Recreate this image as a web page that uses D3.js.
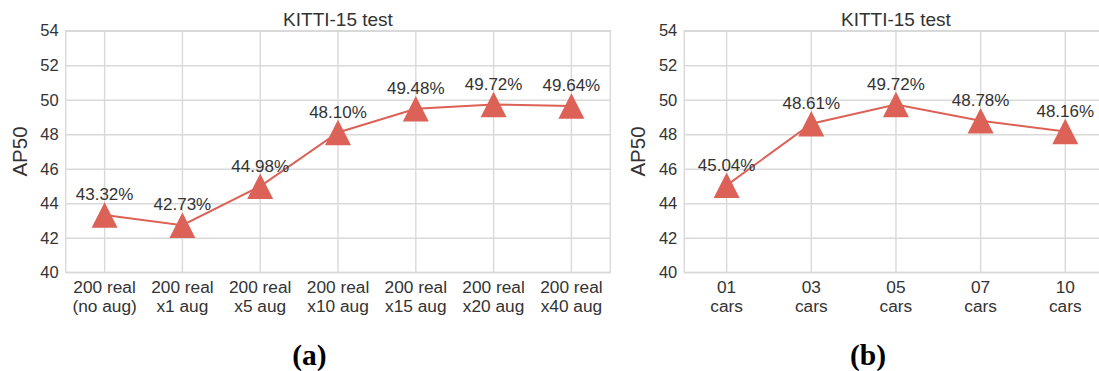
<!DOCTYPE html>
<html>
<head>
<meta charset="utf-8">
<script src="https://cdn.jsdelivr.net/npm/d3@7"></script>
<style>
  body { margin: 0; background: #fff; }
  svg text { font-family: "Liberation Sans", Arial, sans-serif; fill: #333; }
</style>
</head>
<body>
<svg id="chart" width="1099" height="371"></svg>
<script>
// data
var labelsA = [["200 real", "(no aug)"], ["200 real", "x1 aug"], ["200 real", "x5 aug"],
               ["200 real", "x10 aug"], ["200 real", "x15 aug"], ["200 real", "x20 aug"],
               ["200 real", "x40 aug"]];
var valuesA = [43.32, 42.73, 44.98, 48.10, 49.48, 49.72, 49.64];

var labelsB = [["01", "cars"], ["03", "cars"], ["05", "cars"], ["07", "cars"], ["10", "cars"]];
var valuesB = [45.04, 48.61, 49.72, 48.78, 48.16];

var yTicks = [40, 42, 44, 46, 48, 50, 52, 54];
var title = "KITTI-15 test";
var yTitle = "AP50";

var svg = d3.select("#chart");
var lineColor = "#dc6156";
var gridColor = "#d9d9d9";

function drawPanel(labels, values, left, right, caption, captionX) {
    var top = 30.7, bottom = 272.3;
    var keys = labels.map(function (d) { return d.join(" "); });

    var x = d3.scaleBand().domain(keys).range([left, right]).padding(0);
    var y = d3.scaleLinear().domain([40, 54]).range([bottom, top]);

    var g = svg.append("g");

    // horizontal grid
    g.append("g")
        .attr("transform", "translate(" + left + ",0)")
        .call(d3.axisLeft(y).tickValues(yTicks).tickSize(-(right - left)).tickFormat(""))
        .call(function (s) {
            s.select(".domain").remove();
            s.selectAll("line").attr("stroke", gridColor).attr("stroke-width", 1.4);
        });

    // vertical grid at category centres
    g.append("g")
        .attr("transform", "translate(0," + bottom + ")")
        .call(d3.axisBottom(x).tickSize(-(bottom - top)).tickFormat(""))
        .call(function (s) {
            s.select(".domain").remove();
            s.selectAll("line").attr("stroke", gridColor).attr("stroke-width", 1.4);
        });

    // frame
    g.append("rect")
        .attr("x", left).attr("y", top)
        .attr("width", right - left).attr("height", bottom - top)
        .attr("fill", "none").attr("stroke", gridColor).attr("stroke-width", 1.4);

    // y tick labels
    g.append("g")
        .attr("transform", "translate(" + left + ",0)")
        .call(d3.axisLeft(y).tickValues(yTicks).tickSize(0).tickPadding(7))
        .call(function (s) {
            s.select(".domain").remove();
            s.selectAll("text")
                .style("font-size", "16.5px")
                .style("font-family", "'Liberation Sans', Arial, sans-serif")
                .attr("fill", "#333");
        });

    // x tick labels (two lines)
    var xl = g.append("g").selectAll("text")
        .data(labels)
        .enter()
        .append("text")
        .attr("x", function (d) { return x(d.join(" ")) + x.bandwidth() / 2; })
        .attr("y", 293.3)
        .attr("text-anchor", "middle")
        .style("font-size", "17.3px");
    xl.append("tspan").text(function (d) { return d[0]; });
    xl.append("tspan")
        .attr("x", function (d) { return x(d.join(" ")) + x.bandwidth() / 2; })
        .attr("dy", 19)
        .text(function (d) { return d[1]; });

    // line
    var pts = values.map(function (v, i) { return [x(keys[i]) + x.bandwidth() / 2, y(v)]; });
    g.append("path")
        .datum(pts)
        .attr("d", d3.line())
        .attr("fill", "none")
        .attr("stroke", lineColor)
        .attr("stroke-width", 2);

    // triangle markers
    var w = 26, h = 25.5;
    g.selectAll(".marker")
        .data(pts)
        .enter()
        .append("path")
        .attr("class", "marker")
        .attr("transform", function (d) { return "translate(" + d[0] + "," + d[1] + ")"; })
        .attr("d", "M0," + (-h / 2) + "L" + (w / 2) + "," + (h / 2) + "L" + (-w / 2) + "," + (h / 2) + "Z")
        .attr("fill", lineColor);

    // value labels
    g.selectAll(".vlab")
        .data(values)
        .enter()
        .append("text")
        .attr("class", "vlab")
        .attr("x", function (d, i) { return pts[i][0]; })
        .attr("y", function (d, i) { return pts[i][1] - 14.8; })
        .attr("text-anchor", "middle")
        .style("font-size", "17px")
        .text(function (d) { return d.toFixed(2) + "%"; });

    // title
    g.append("text")
        .attr("x", (left + right) / 2)
        .attr("y", 26)
        .attr("text-anchor", "middle")
        .style("font-size", "19px")
        .text(title);

    // y axis title
    g.append("text")
        .attr("transform", "translate(" + (left - 39) + "," + ((top + bottom) / 2) + ") rotate(-90)")
        .attr("text-anchor", "middle")
        .style("font-size", "20.5px")
        .text(yTitle);

    // caption
    g.append("text")
        .attr("x", captionX)
        .attr("y", 364.5)
        .attr("text-anchor", "middle")
        .style("font-family", "'Liberation Serif', 'Times New Roman', serif")
        .style("font-weight", "bold")
        .style("font-size", "29.5px")
        .style("fill", "#000")
        .text(caption);
}

drawPanel(labelsA, valuesA, 65.7, 610.3, "(a)", 309.5);
drawPanel(labelsB, valuesB, 684.3, 1107.6, "(b)", 868);
</script>
</body>
</html>
